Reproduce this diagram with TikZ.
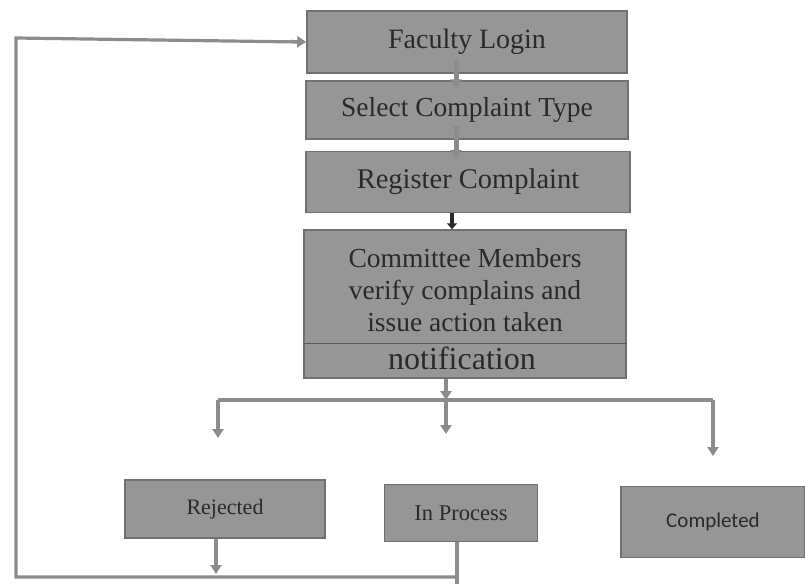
\documentclass[tikz,border=0pt]{standalone}
\usepackage{fontspec}
\setmainfont{Liberation Serif}
\newfontfamily\calfont{Carlito}
\usetikzlibrary{arrows.meta}
\definecolor{boxfill}{HTML}{969696}
\definecolor{boxline}{HTML}{707070}
\definecolor{txt}{HTML}{2A2A2A}
\definecolor{conn}{HTML}{8C8C8C}
\tikzset{
  stepbox/.style={draw=boxline, line width=1.5pt, fill=boxfill, text=txt, inner sep=2pt, align=center},
  conline/.style={draw=conn, line width=3.2pt},
  arr/.style={conline, -{Triangle[length=9pt,width=11pt]}},
  darkarr/.style={draw=txt, line width=3.5pt, -{Triangle[length=6pt,width=10pt]}},
}
\begin{document}
\begin{tikzpicture}[x=1pt,y=-1pt]
\useasboundingbox[fill=white] (0,0) rectangle (805,584);
\node[stepbox, minimum width=320pt, minimum height=62pt, font=\fontsize{28}{32}\selectfont] (fl) at (467,42) {Faculty Login};
\node[stepbox, minimum width=322pt, minimum height=58pt, font=\fontsize{27.5}{32}\selectfont] (sct) at (467,110) {Select Complaint Type};
\node[stepbox, minimum width=324pt, minimum height=61pt, font=\fontsize{28.5}{32}\selectfont] (rc) at (468,182) {Register Complaint};
\node[stepbox, minimum width=322pt, minimum height=148pt, font=\fontsize{27.5}{32}\selectfont] (cm) at (465,304) {};
\node[text=txt, font=\fontsize{27.5}{32}\selectfont, align=center, anchor=north] (cmt) at (465,245) {Committee Members\\verify complains and\\issue action taken};
\draw[boxline!80!black, line width=0.8pt] (cm.west |- 0,343) -- (cm.east |- 0,343);
\node[text=txt, font=\fontsize{32}{34}\selectfont] (cmn) at (462,358) {notification};
\node[stepbox, minimum width=200pt, minimum height=58pt, font=\fontsize{22}{26}\selectfont] (rej) at (225,509) {Rejected};
\node[stepbox, minimum width=153pt, minimum height=57pt, font=\fontsize{22.5}{26}\selectfont] (inp) at (461,513) {In Process};
\node[stepbox, minimum width=184pt, minimum height=71pt, font=\calfont\fontsize{21}{25}\selectfont] (comp) at (713,522) {Completed};
% vertical links
\draw[arr, line width=5pt] ([yshift=14pt]fl.south -| 456,0) -- ([yshift=-8pt]sct.north -| 456,0);
\draw[arr, line width=5pt] ([yshift=14pt]sct.south -| 456,0) -- ([yshift=-8pt]rc.north -| 456,0);
\draw[darkarr] (rc.south -| 452,0) -- (cm.north -| 452,0);
% branching
\coordinate (bl) at (218,400);
\coordinate (br) at (713,400);
\coordinate (bm) at (446,400);
\draw[arr] (cm.south -| bm) -- (bm);
\draw[conline] (bl) -- (br);
\draw[arr] (bl) -- (218,438);
\draw[arr] (bm) -- (446,434);
\draw[arr] (br) -- (713,456);
% loop back
\coordinate (lb) at (16,577);
\coordinate (lt) at (16,38);
\draw[arr] (rej.south -| 216,0) -- (216,574);
\draw[conline] (inp.south -| 457,0) -- (457,584);
\draw[conline] (457,577) -- (lb) -- (lt) -- (300,42);
\draw[arr] (290,41.5) -- (fl.west);
\end{tikzpicture}
\end{document}
